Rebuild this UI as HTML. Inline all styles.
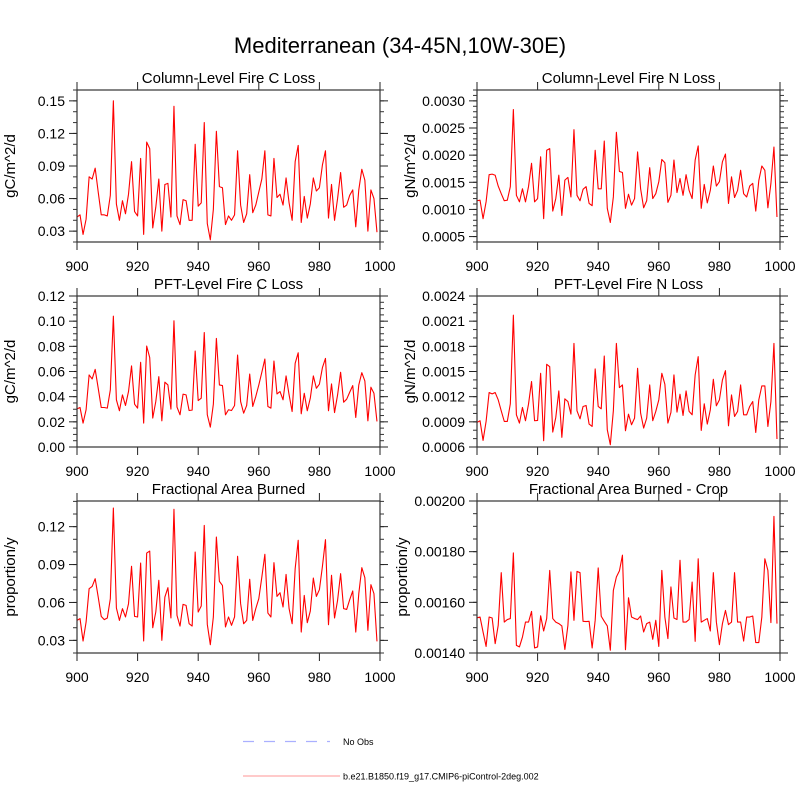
<!DOCTYPE html>
<html><head><meta charset="utf-8"><style>
html,body{margin:0;padding:0;background:#fff;}
svg{display:block;font-family:"Liberation Sans",Arial,sans-serif;}
</style></head><body>
<svg id="chart" width="800" height="800" viewBox="0 0 800 800">
<text x="400" y="53" font-size="22" text-anchor="middle">Mediterranean (34-45N,10W-30E)</text>
<g>
<line x1="243" y1="741.5" x2="330" y2="741.5" stroke="#aab0ff" stroke-width="1.3" stroke-dasharray="11,10"/>
<text x="343" y="745" font-size="9">No Obs</text>
<line x1="243" y1="776" x2="340" y2="776" stroke="#ffaaaa" stroke-width="1.3"/>
<text x="343" y="779.5" font-size="9">b.e21.B1850.f19_g17.CMIP6-piControl-2deg.002</text>
</g>
</svg>
<script>
const years = Array.from({length:100},(_,i)=>900+i);
const xTicks = [900,920,940,960,980,1000];
const colCLoss = [.043,.045,.027,.041,.080,.078,.088,.066,.045,.045,.044,.063,.150,.055,.040,.058,.046,.064,.094,.048,.044,.097,.027,.112,.106,.033,.052,.078,.030,.073,.074,.043,.145,.044,.036,.059,.058,.040,.040,.110,.053,.056,.130,.037,.022,.050,.122,.071,.070,.036,.044,.040,.045,.104,.054,.038,.046,.082,.047,.054,.066,.078,.104,.045,.044,.097,.061,.064,.054,.079,.056,.040,.094,.109,.038,.062,.042,.055,.079,.067,.070,.091,.104,.042,.073,.040,.060,.084,.052,.054,.063,.068,.034,.068,.087,.077,.030,.068,.060,.029];
const colNLoss = [.00116,.00117,.00083,.00114,.00164,.00165,.00163,.00143,.00129,.00116,.00117,.00142,.00284,.00126,.00114,.00138,.00114,.00142,.00185,.00114,.00120,.00197,.00083,.00209,.00212,.00097,.00120,.00163,.00089,.00154,.00159,.00123,.00247,.00126,.00116,.00137,.00142,.00111,.00107,.00209,.00138,.00138,.00226,.00102,.00076,.00123,.00242,.00170,.00168,.00102,.00128,.00108,.00120,.00206,.00138,.00103,.00116,.00177,.00120,.00129,.00151,.00192,.00186,.00113,.00126,.00191,.00131,.00157,.00126,.00164,.00135,.00120,.00191,.00217,.00102,.00146,.00112,.00135,.00180,.00143,.00151,.00188,.00202,.00111,.00160,.00122,.00135,.00172,.00129,.00123,.00143,.00148,.00097,.00153,.00180,.00172,.00103,.00148,.00215,.00086];
const pftCLoss = [.0303,.0314,.0190,.0296,.0573,.0541,.0617,.0467,.0314,.0314,.0309,.0454,.1040,.0375,.0288,.0414,.0330,.0441,.0644,.0340,.0309,.0673,.0190,.0802,.0710,.0230,.0361,.0559,.0208,.0515,.0493,.0301,.1003,.0317,.0256,.0420,.0414,.0290,.0293,.0763,.0369,.0388,.0910,.0256,.0158,.0340,.0863,.0493,.0488,.0256,.0296,.0290,.0330,.0731,.0361,.0269,.0330,.0580,.0322,.0401,.0493,.0594,.0699,.0322,.0309,.0683,.0422,.0441,.0375,.0565,.0414,.0282,.0665,.0749,.0264,.0427,.0288,.0388,.0565,.0467,.0499,.0631,.0704,.0288,.0501,.0274,.0414,.0594,.0356,.0380,.0435,.0488,.0235,.0493,.0591,.0525,.0208,.0475,.0427,.0203];
const pftNLoss = [.000893,.000913,.000679,.000905,.001249,.001233,.001249,.001162,.001031,.000905,.000905,.001115,.002171,.000984,.000885,.001071,.000913,.001111,.001380,.000913,.000917,.001479,.000675,.001586,.001558,.000778,.000952,.001269,.000715,.001174,.001142,.000992,.001835,.001031,.000936,.001083,.001095,.000873,.000845,.001530,.001083,.001055,.001684,.000806,.000628,.001031,.001835,.001308,.001340,.000794,.000992,.000865,.000944,.001538,.001004,.000826,.000944,.001340,.000913,.001024,.001162,.001479,.001348,.000885,.001012,.001459,.001016,.001229,.000976,.001269,.001024,.000984,.001459,.001677,.000798,.001115,.000873,.001043,.001407,.001091,.001162,.001399,.001510,.000853,.001221,.000964,.001024,.001340,.000984,.000984,.001083,.001142,.000774,.001162,.001328,.001328,.000845,.001142,.001835,.000695];
const areaBurned = [.0458,.0472,.0295,.0445,.0709,.0727,.0788,.0643,.0490,.0464,.0477,.0630,.1347,.0556,.0458,.0551,.0485,.0590,.0886,.0490,.0485,.0912,.0295,.0991,.1007,.0400,.0524,.0775,.0300,.0643,.0717,.0477,.1337,.0498,.0413,.0585,.0577,.0432,.0413,.0999,.0524,.0572,.1210,.0427,.0266,.0485,.1118,.0767,.0735,.0406,.0485,.0419,.0485,.0965,.0590,.0432,.0458,.0783,.0458,.0551,.0630,.0801,.0981,.0516,.0485,.0915,.0648,.0677,.0564,.0822,.0551,.0432,.0867,.1092,.0366,.0656,.0440,.0532,.0793,.0648,.0701,.0886,.1097,.0424,.0815,.0477,.0617,.0828,.0551,.0545,.0622,.0691,.0366,.0670,.0875,.0796,.0379,.0741,.0670,.0292];
const areaBurnedCrop = [.001539,.001542,.001483,.001426,.001542,.001538,.001437,.001509,.001717,.001522,.001532,.001536,.001795,.001430,.001424,.001463,.001522,.001522,.001564,.001420,.001424,.001547,.001487,.001536,.001726,.001536,.001522,.001516,.001507,.001414,.001509,.001720,.001529,.001722,.001717,.001525,.001524,.001525,.001420,.001529,.001736,.001545,.001525,.001507,.001411,.001647,.001700,.001724,.001786,.001413,.001618,.001542,.001536,.001532,.001546,.001483,.001516,.001522,.001454,.001529,.001426,.001726,.001542,.001457,.001661,.001538,.001532,.001766,.001522,.001522,.001532,.001680,.001446,.001772,.001522,.001529,.001536,.001487,.001717,.001522,.001433,.001516,.001568,.001512,.001522,.001717,.001522,.001522,.001447,.001542,.001542,.001546,.001441,.001441,.001542,.001772,.001726,.001520,.001939,.001516];
const colCTicks = ["0.03","0.06","0.09","0.12","0.15"];
const colNTicks = ["0.0005","0.0010","0.0015","0.0020","0.0025","0.0030"];
const pftCTicks = ["0.00","0.02","0.04","0.06","0.08","0.10","0.12"];
const pftNTicks = ["0.0006","0.0009","0.0012","0.0015","0.0018","0.0021","0.0024"];
const areaTicks = ["0.03","0.06","0.09","0.12"];
const cropTicks = ["0.00140","0.00160","0.00180","0.00200"];

const NS="http://www.w3.org/2000/svg";
const svg=document.getElementById('chart');
function mk(tag,attrs,parent){const e=document.createElementNS(NS,tag);for(const k in attrs)e.setAttribute(k,attrs[k]);(parent||svg).appendChild(e);return e;}

const panels=[
 {key:'col-c',title:'Column-Level Fire C Loss',ylab:'gC/m^2/d',x0:77,x1:380,y0:90,y1:242,ymin:0.02,ymax:0.16,ticks:colCTicks,minor:0.01,data:colCLoss,lo:62},
 {key:'col-n',title:'Column-Level Fire N Loss',ylab:'gN/m^2/d',x0:477,x1:780,y0:90,y1:242,ymin:0.0004,ymax:0.0032,ticks:colNTicks,minor:0.0001,data:colNLoss,lo:62},
 {key:'pft-c',title:'PFT-Level Fire C Loss',ylab:'gC/m^2/d',x0:77,x1:380,y0:296,y1:447,ymin:0,ymax:0.12,ticks:pftCTicks,minor:0.005,data:pftCLoss,lo:62},
 {key:'pft-n',title:'PFT-Level Fire N Loss',ylab:'gN/m^2/d',x0:477,x1:780,y0:296,y1:447,ymin:0.0006,ymax:0.0024,ticks:pftNTicks,minor:0.0001,data:pftNLoss,lo:62},
 {key:'area',title:'Fractional Area Burned',ylab:'proportion/y',x0:77,x1:380,y0:501,y1:653,ymin:0.02,ymax:0.1403,ticks:areaTicks,minor:0.01,data:areaBurned,lo:62},
 {key:'crop',title:'Fractional Area Burned - Crop',ylab:'proportion/y',x0:477,x1:780,y0:501,y1:653,ymin:0.0014,ymax:0.0020,ticks:cropTicks,minor:0.00005,data:areaBurnedCrop,lo:70}
];

panels.forEach(p=>{
  const g=mk('g',{});
  
  
  const xs=v=>p.x0+(v-900)/100*(p.x1-p.x0);
  const ys=v=>p.y1-(v-p.ymin)/(p.ymax-p.ymin)*(p.y1-p.y0);
  const t=mk('text',{x:(p.x0+p.x1)/2,y:p.y0-7,'font-size':15,'text-anchor':'middle'},g);
  t.textContent=p.title;
  
  
  const lx=p.x0-p.lo, ly=(p.y0+p.y1)/2;
  const yl=mk('text',{x:lx,y:ly,'font-size':15,'text-anchor':'middle',transform:`rotate(-90 ${lx} ${ly})`},g);
  yl.textContent=p.ylab;
  
  
  const start=Math.ceil(p.ymin/p.minor-1e-6);
  for(let k=start;k*p.minor<=p.ymax+1e-12;k++){
    const y=ys(k*p.minor);
    if(y<p.y0-0.5||y>p.y1+0.5)continue;
    mk('line',{x1:p.x0-4,x2:p.x0,y1:y,y2:y,stroke:'#333','stroke-width':1},g);
    mk('line',{x1:p.x1,x2:p.x1+4,y1:y,y2:y,stroke:'#333','stroke-width':1},g);
  }
  p.ticks.forEach(lab=>{
    const y=ys(parseFloat(lab));
    mk('line',{x1:p.x0-8,x2:p.x0,y1:y,y2:y,stroke:'#222','stroke-width':1},g);
    mk('line',{x1:p.x1,x2:p.x1+8,y1:y,y2:y,stroke:'#222','stroke-width':1},g);
    const tl=mk('text',{x:p.x0-12,y:y+5,'font-size':14,'text-anchor':'end'},g);
    tl.textContent=lab;
    
    
  });
  xTicks.forEach(v=>{
    const x=xs(v);
    mk('line',{x1:x,x2:x,y1:p.y1,y2:p.y1+8,stroke:'#222','stroke-width':1},g);
    mk('line',{x1:x,x2:x,y1:p.y0-8,y2:p.y0,stroke:'#222','stroke-width':1},g);
    const tl=mk('text',{x:x,y:p.y1+29,'font-size':14,'text-anchor':'middle'},g);
    tl.textContent=String(v);
    
    
  });
  const pts=p.data.map((v,i)=>xs(years[i]).toFixed(2)+','+ys(v).toFixed(2)).join(' ');
  const pl=mk('polyline',{points:pts,fill:'none',stroke:'#ff0000','stroke-width':1.1,'stroke-linejoin':'round'},g);
  
  
  const fr=mk('rect',{x:p.x0,y:p.y0,width:p.x1-p.x0,height:p.y1-p.y0,fill:'none',stroke:'#333','stroke-width':1.2},g);
  
  
});
</script>
</body></html>
